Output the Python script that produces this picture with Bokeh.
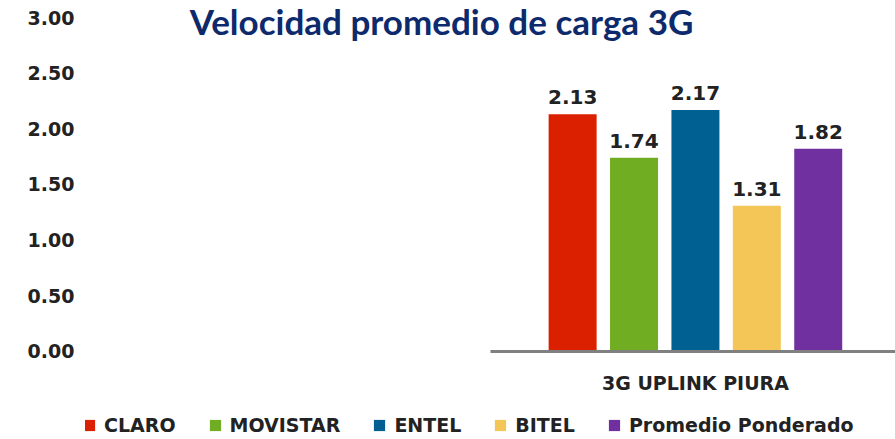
from bokeh.plotting import figure
from bokeh.models import (Range1d, FixedTicker, NumeralTickFormatter, Legend, LegendItem,
                          Label, ColumnDataSource)
from bokeh.embed import file_html
from bokeh.resources import INLINE
from bokeh.core.properties import value

# ---- data ----
operators = ["CLARO", "MOVISTAR", "ENTEL", "BITEL", "Promedio Ponderado"]
speeds = [2.13, 1.74, 2.17, 1.31, 1.82]
colors = ["#DB2000", "#70AD22", "#006092", "#F4C657", "#7030A0"]
categories = ["", "3G UPLINK PIURA"]
y_ticks = [0.0, 0.5, 1.0, 1.5, 2.0, 2.5, 3.0]
title_text = "Velocidad promedio de carga 3G"

# ---- layout constants ----
W, H = 895, 439
LEFT = 85
group_idx = 1
group_center = group_idx + 0.5
step = 0.1516
bar_w = 0.1185
FONT = "DejaVu Sans"
TXT = "#222222"
PX_PER_UNIT = 111.33
Y_TOP = 3.0 + 17 / PX_PER_UNIT
Y_BOTTOM = -(H - 351) / PX_PER_UNIT

p = figure(width=W, height=H, output_backend="svg", toolbar_location=None,
           x_range=Range1d(0, 2.0), y_range=Range1d(Y_BOTTOM, Y_TOP),
           min_border_left=LEFT, min_border_right=0, min_border_top=0, min_border_bottom=0)
p.outline_line_color = None
p.xgrid.visible = False
p.ygrid.visible = False
p.xaxis.visible = False
p.background_fill_color = "white"
p.border_fill_color = "white"

# y axis
p.yaxis.ticker = FixedTicker(ticks=y_ticks)
p.yaxis.formatter = NumeralTickFormatter(format="0.00")
p.yaxis.axis_line_color = None
p.yaxis.major_tick_line_color = None
p.yaxis.minor_tick_line_color = None
p.yaxis.major_tick_out = 0
p.yaxis.major_label_standoff = 11
p.yaxis.major_label_text_font = FONT
p.yaxis.major_label_text_font_style = "bold"
p.yaxis.major_label_text_font_size = "19px"
p.yaxis.major_label_text_color = TXT

items = []
xs = []
for i, (op, v, c) in enumerate(zip(operators, speeds, colors)):
    x = group_center + (i - (len(operators) - 1) / 2) * step + 0.006
    xs.append(x)
    r = p.vbar(x=[x], top=[v], width=bar_w, bottom=0, fill_color=c, line_color=None)
    items.append(LegendItem(label=op, renderers=[r]))

# baseline (category axis line)
p.segment(x0=[group_idx], x1=[group_idx + 1], y0=[0], y1=[0], line_color="#808080", line_width=3)

# category label
p.text(x=[group_center + 0.006], y=[0], text=[categories[group_idx]], text_align="center",
       text_baseline="middle", y_offset=32, text_font=value(FONT), text_font_style="bold",
       text_font_size="19px", text_color=TXT)

# value labels
src = ColumnDataSource(dict(x=xs, y=speeds, t=[f"{v:.2f}" for v in speeds]))
p.text(x="x", y="y", text="t", source=src, text_align="center", text_baseline="bottom",
       y_offset=-10, text_font=value(FONT), text_font_style="bold", text_font_size="20px",
       text_color=TXT)

# title
p.add_layout(Label(x=0.879, y=3.0 - 3 / PX_PER_UNIT, text=title_text, text_align="center",
                   text_baseline="middle", text_font="Lato", text_font_style="bold",
                   text_font_size="35px", text_color="#0D2A6C"))

legend = Legend(items=items, orientation="horizontal", location=(-3, 3),
                glyph_width=14, glyph_height=14, label_standoff=8, spacing=32,
                label_text_font=FONT, label_text_font_style="bold", label_text_font_size="19px",
                label_text_color=TXT, border_line_color=None, background_fill_alpha=0,
                padding=0, margin=0)
p.add_layout(legend, "center")

open("out.html", "w").write(file_html(p, INLINE))
